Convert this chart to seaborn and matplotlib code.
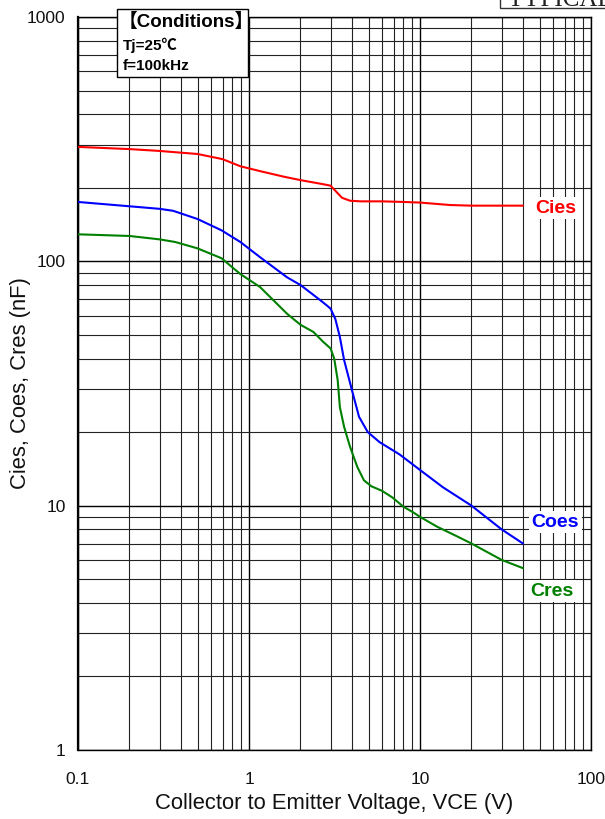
import numpy as np
import pandas as pd
import matplotlib
matplotlib.use("Agg")
import matplotlib.pyplot as plt
import seaborn as sns
from matplotlib.patches import Rectangle
from matplotlib.ticker import FixedLocator, LogLocator, NullFormatter

# ---------------- data ----------------
vce_cies = [0.1, 0.2, 0.3, 0.5, 0.7, 0.89, 1.16, 1.6, 2.0, 2.7, 3.0, 3.3, 3.5, 3.9, 4.5, 6, 8, 10, 15, 20, 40]
cies = [294, 288, 283, 275, 262, 245, 234, 222, 215, 207, 204, 190, 182, 177, 176, 176, 175, 174, 170, 169, 169]

vce_coes = [0.1, 0.2, 0.3, 0.36, 0.5, 0.69, 0.89, 1.16, 1.67, 2.0, 2.6, 2.85, 3.0, 3.2, 3.4, 3.6,
            4.0, 4.4, 4.95, 5.8, 7.6, 10, 13.6, 20, 30, 40]
coes = [175, 168, 164, 161, 149, 134, 120, 104, 86, 80, 69.5, 66, 64, 58, 49, 39.4,
        29.7, 23.1, 20, 18.2, 16.2, 14.0, 11.9, 10, 8, 7]

vce_cres = [0.1, 0.2, 0.3, 0.37, 0.5, 0.69, 0.89, 1.16, 1.67, 2.0, 2.38, 2.7, 3.0, 3.15, 3.3, 3.4,
            3.6, 3.9, 4.3, 4.7, 5.2, 6.0, 6.9, 8.0, 9.1, 10, 12.6, 16.4, 20, 30, 40]
cres = [129, 127, 123, 120, 113, 103, 88.7, 78.5, 61, 55, 51.4, 47, 44, 40, 32.7, 25.3,
        21, 17.4, 14.4, 12.7, 12.0, 11.5, 10.8, 9.9, 9.4, 9.0, 8.2, 7.5, 7.0, 6.0, 5.55]

series_names = ["Cies", "Coes", "Cres"]
series_colors = ["#ff0000", "#0000ff", "#008000"]
x_ticks = [0.1, 1, 10, 100]
x_ticklabels = ["0.1", "1", "10", "100"]
y_ticks = [1, 10, 100, 1000]
y_ticklabels = ["1", "10", "100", "1000"]

df = pd.concat([
    pd.DataFrame({"V": vce_cies, "C": cies, "series": "Cies"}),
    pd.DataFrame({"V": vce_coes, "C": coes, "series": "Coes"}),
    pd.DataFrame({"V": vce_cres, "C": cres, "series": "Cres"}),
], ignore_index=True)

# ---------------- style ----------------
sns.set_theme(style="white")
plt.rcParams["font.family"] = ["Liberation Sans", "Noto Sans CJK JP", "DejaVu Sans"]

W, H = 605, 819
fig = plt.figure(figsize=(W / 100, H / 100), dpi=100)
fig.patch.set_facecolor("white")
L, R, T, B = 78, 591, 17, 750
ax = fig.add_axes([L / W, (H - B) / H, (R - L) / W, (B - T) / H])
ax.set_facecolor("white")

sns.lineplot(data=df, x="V", y="C", hue="series", hue_order=series_names,
             palette=dict(zip(series_names, series_colors)), legend=False,
             estimator=None, sort=False, lw=1.5, ax=ax, zorder=5)

ax.set_xscale("log")
ax.set_yscale("log")
ax.set_xlim(0.1, 100)
ax.set_ylim(1, 1000)

ax.xaxis.set_major_locator(FixedLocator(x_ticks))
ax.set_xticklabels(x_ticklabels)
ax.yaxis.set_major_locator(FixedLocator(y_ticks))
ax.set_yticklabels(y_ticklabels)
ax.xaxis.set_minor_locator(LogLocator(base=10, subs=np.arange(2, 10)))
ax.yaxis.set_minor_locator(LogLocator(base=10, subs=np.arange(2, 10)))
ax.xaxis.set_minor_formatter(NullFormatter())
ax.yaxis.set_minor_formatter(NullFormatter())

ax.grid(which="major", color="black", lw=1.0)
ax.grid(which="minor", color="#222222", lw=0.8)
ax.tick_params(which="both", length=0)
ax.tick_params(axis="x", pad=16, labelsize=12.5, colors="#111111")
ax.tick_params(axis="y", pad=9, labelsize=12.5, colors="#111111")
for s in ax.spines.values():
    s.set_color("black")
    s.set_linewidth(1.0)
ax.spines["left"].set_linewidth(1.6)

ax.set_xlabel("Collector to Emitter Voltage, VCE (V)", fontsize=15.8, color="#111111", va="center")
ax.xaxis.set_label_coords(0.5, (B - 803) / (B - T))
ax.set_ylabel("Cies, Coes, Cres (nF)", fontsize=15.8, color="#111111", va="center")
ax.yaxis.set_label_coords((21 - L) / (R - L), 0.5)

# curve labels
lab_pos = {"Cies": (62, 165), "Coes": (62, 8.57), "Cres": (59, 4.47)}
for name, col in zip(series_names, series_colors):
    x, y = lab_pos[name]
    ax.text(x, y, name, color=col, fontsize=14, fontweight="bold", ha="center", va="center",
            zorder=6, bbox=dict(facecolor="white", edgecolor="none", pad=2))

# Conditions box
bx0, by0, bx1, by1 = 117, 9, 248, 77
ax.add_patch(Rectangle((bx0 / W, 1 - by1 / H), (bx1 - bx0) / W, (by1 - by0) / H,
                       transform=fig.transFigure, facecolor="white", edgecolor="black",
                       lw=1.0, clip_on=False, zorder=20))
ax.text(119 / W, 1 - 22 / H, "【Conditions】", transform=fig.transFigure, fontsize=13.5,
        fontweight="bold", ha="left", va="center", zorder=21, color="black")
ax.text(123 / W, 1 - 45 / H, "Tj=25℃", transform=fig.transFigure, fontsize=11,
        fontweight="bold", ha="left", va="center", zorder=21, color="black")
ax.text(123 / W, 1 - 66 / H, "f=100kHz", transform=fig.transFigure, fontsize=11,
        fontweight="bold", ha="left", va="center", zorder=21, color="black")

# clipped header box at top right
fig.patches.append(Rectangle((500 / W, 1 - 8 / H), 120 / W, 30 / H, transform=fig.transFigure,
                             facecolor="white", edgecolor="#333333", lw=1.0))
fig.text(507 / W, 1 - 6 / H, "TYPICAL", fontsize=18, family="Liberation Serif",
         ha="left", va="baseline", color="#222222")

fig.savefig("out.png", dpi=100)
